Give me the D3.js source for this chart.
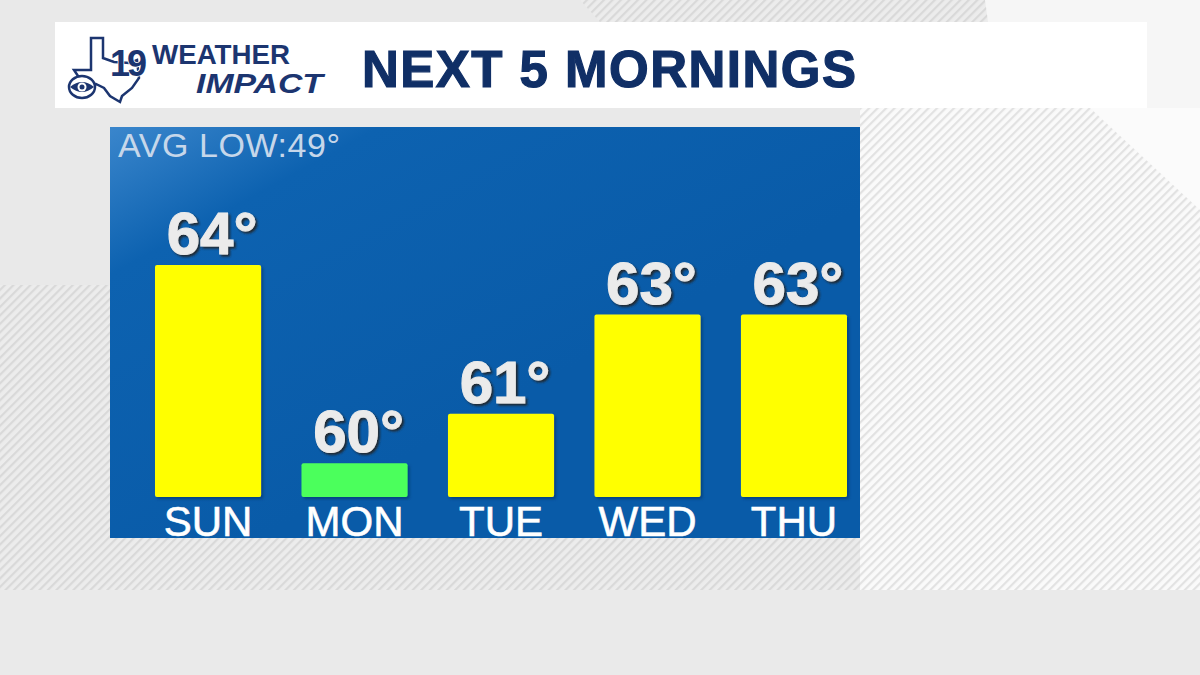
<!DOCTYPE html>
<html>
<head>
<meta charset="utf-8">
<script src="https://cdn.jsdelivr.net/npm/d3@7"></script>
<style>
  body { margin: 0; background: #e9e9e9; }
  svg { display: block; }
</style>
</head>
<body>
<div id="chart-area"></div>
<script>
// data
const days = ["SUN", "MON", "TUE", "WED", "THU"]
const lows = [64, 60, 61, 63, 63]
const barColors = ["#ffff00", "#4cff5c", "#ffff00", "#ffff00", "#ffff00"]
const avgLowLabel = "AVG LOW:49°"
const title = "NEXT 5 MORNINGS"

function drawChart() {
    const svgWidth = 1200
    const svgHeight = 675
    const panel = { x: 110, y: 127, w: 750, h: 411 }
    const font = "Arial, 'Liberation Sans', sans-serif"

    const svg = d3.select("#chart-area")
        .append("svg")
        .attr("width", svgWidth)
        .attr("height", svgHeight)

    const defs = svg.append("defs")

    // diagonal stripes, two tones
    function stripes(id, bg, line) {
        const p = defs.append("pattern")
            .attr("id", id)
            .attr("width", 6).attr("height", 6)
            .attr("patternUnits", "userSpaceOnUse")
            .attr("patternTransform", "rotate(45)")
        p.append("rect").attr("width", 6).attr("height", 6).attr("fill", bg)
        p.append("rect").attr("width", 2.2).attr("height", 6).attr("fill", line)
    }
    stripes("stripesLight", "#fafafa", "#e2e2e2")
    stripes("stripesGray", "#ececec", "#d9d9d9")

    const panelGrad = defs.append("linearGradient")
        .attr("id", "panelGrad")
        .attr("x1", "0").attr("y1", "0").attr("x2", "0.6").attr("y2", "0.6")
    panelGrad.append("stop").attr("offset", "0").attr("stop-color", "#3a86cc")
    panelGrad.append("stop").attr("offset", "0.3").attr("stop-color", "#0d62b0")
    panelGrad.append("stop").attr("offset", "1").attr("stop-color", "#095ba8")

    const shadow = defs.append("filter").attr("id", "txtShadow")
        .attr("x", "-20%").attr("y", "-20%").attr("width", "140%").attr("height", "140%")
    shadow.append("feDropShadow")
        .attr("dx", 2).attr("dy", 2).attr("stdDeviation", 1)
        .attr("flood-color", "#222").attr("flood-opacity", 0.9)

    const barShadow = defs.append("filter").attr("id", "barShadow")
    barShadow.append("feDropShadow")
        .attr("dx", 2).attr("dy", 2).attr("stdDeviation", 1.5)
        .attr("flood-color", "#04386e").attr("flood-opacity", 0.7)

    // backdrop
    const bg = svg.append("g")
    bg.append("rect").attr("width", svgWidth).attr("height", svgHeight).attr("fill", "#e9e9e9")
    bg.append("path").attr("d", "M580,0 L985,0 L1000,22 L600,22 Z").attr("fill", "url(#stripesGray)")
    bg.append("path").attr("d", "M985,0 L1200,0 L1200,108 L1000,108 Z").attr("fill", "#f6f6f6")
    bg.append("rect").attr("x", 0).attr("y", 285).attr("width", 110).attr("height", 305)
        .attr("fill", "url(#stripesGray)")
    bg.append("rect").attr("x", 110).attr("y", 538).attr("width", 750).attr("height", 52)
        .attr("fill", "url(#stripesGray)")
    bg.append("rect").attr("x", 860).attr("y", 108).attr("width", 340).attr("height", 482)
        .attr("fill", "url(#stripesLight)")
    bg.append("path").attr("d", "M1090,108 L1200,108 L1200,210 Z").attr("fill", "#fbfbfb")
    bg.append("rect").attr("x", 0).attr("y", 590).attr("width", svgWidth).attr("height", 85)
        .attr("fill", "#eaeaea")

    // header bar
    svg.append("rect")
        .attr("x", 55).attr("y", 22).attr("width", 1092).attr("height", 86)
        .attr("fill", "#ffffff")

    svg.append("text")
        .attr("x", 362).attr("y", 87)
        .attr("font-family", font)
        .attr("font-weight", 900)
        .attr("font-size", 51)
        .attr("fill", "#102f66")
        .attr("stroke", "#102f66").attr("stroke-width", 1.2)
        .attr("textLength", 494)
        .text(title)

    // station logo, roughly
    const navy = "#1c3570"
    const logo = svg.append("g").attr("fill", "none").attr("stroke", navy).attr("stroke-width", 2.5)
    logo.append("path")
        .attr("d", "M91,38 L103,38 L103,58 L114,62 L130,63 L137,60 L139,78 L132,88 L122,96 L120,102 L110,96 L104,88 L96,84 L90,92 L82,82 L74,70 L91,70 Z")
    logo.append("ellipse").attr("cx", 82).attr("cy", 87).attr("rx", 13).attr("ry", 11)
        .attr("fill", "#ffffff")
    logo.append("path").attr("d", "M70,87 Q82,77 94,87 Q82,97 70,87 Z")
        .attr("fill", navy).attr("stroke", "none")
    logo.append("circle").attr("cx", 82).attr("cy", 87).attr("r", 4.5)
        .attr("fill", "#ffffff").attr("stroke", "none")
    logo.append("circle").attr("cx", 82).attr("cy", 87).attr("r", 2.5)
        .attr("fill", navy).attr("stroke", "none")
    svg.append("text")
        .attr("x", 110).attr("y", 76)
        .attr("font-family", font).attr("font-weight", 900)
        .attr("font-size", 36).attr("fill", navy)
        .attr("stroke", "#ffffff").attr("stroke-width", 1.5)
        .attr("paint-order", "stroke")
        .attr("letter-spacing", -3)
        .text("19")
    svg.append("text")
        .attr("transform", "translate(152,64) scale(1,1.35)")
        .attr("font-family", font).attr("font-weight", 700)
        .attr("font-size", 21).attr("fill", navy)
        .attr("textLength", 138).attr("lengthAdjust", "spacingAndGlyphs")
        .text("WEATHER")
    svg.append("text")
        .attr("transform", "translate(196,93) scale(1,1.35)")
        .attr("font-family", font).attr("font-weight", 900)
        .attr("font-style", "italic")
        .attr("font-size", 21).attr("fill", navy)
        .attr("textLength", 127).attr("lengthAdjust", "spacingAndGlyphs")
        .text("IMPACT")

    // chart panel
    svg.append("rect")
        .attr("x", panel.x).attr("y", panel.y)
        .attr("width", panel.w).attr("height", panel.h)
        .attr("fill", "url(#panelGrad)")

    svg.append("text")
        .attr("x", 118).attr("y", 157)
        .attr("font-family", font)
        .attr("font-size", 34)
        .attr("fill", "#c6d7ea")
        .attr("textLength", 222)
        .text(avgLowLabel)

    const x = d3.scaleBand()
        .domain(days)
        .range([140.35, 861.65])
        .paddingInner(0.276)
        .paddingOuter(0.1)

    const y = d3.scaleLinear()
        .domain([59.32, 64])
        .range([497, 265])

    const chart = svg.append("g")

    chart.selectAll(".bar")
        .data(lows)
        .enter().append("rect")
        .attr("class", "bar")
        .attr("x", (d, i) => x(days[i]))
        .attr("y", d => y(d))
        .attr("width", x.bandwidth())
        .attr("height", d => y.range()[0] - y(d))
        .attr("fill", (d, i) => barColors[i])
        .attr("rx", 2)
        .attr("filter", "url(#barShadow)")

    chart.selectAll(".val")
        .data(lows)
        .enter().append("text")
        .attr("class", "val")
        .attr("x", (d, i) => x(days[i]) + x.bandwidth() / 2 + 4)
        .attr("y", d => y(d) - 11)
        .attr("text-anchor", "middle")
        .attr("font-family", font)
        .attr("font-weight", 700)
        .attr("font-size", 60)
        .attr("fill", "#ebebeb")
        .attr("stroke", "#ebebeb").attr("stroke-width", 1)
        .attr("filter", "url(#txtShadow)")
        .text(d => d + "°")

    chart.selectAll(".day")
        .data(days)
        .enter().append("text")
        .attr("class", "day")
        .attr("x", d => x(d) + x.bandwidth() / 2)
        .attr("y", 536)
        .attr("text-anchor", "middle")
        .attr("font-family", font)
        .attr("font-size", 42)
        .attr("fill", "#ffffff")
        .attr("stroke", "#ffffff").attr("stroke-width", 0.6)
        .text(d => d)
}

drawChart()
</script>
</body>
</html>
